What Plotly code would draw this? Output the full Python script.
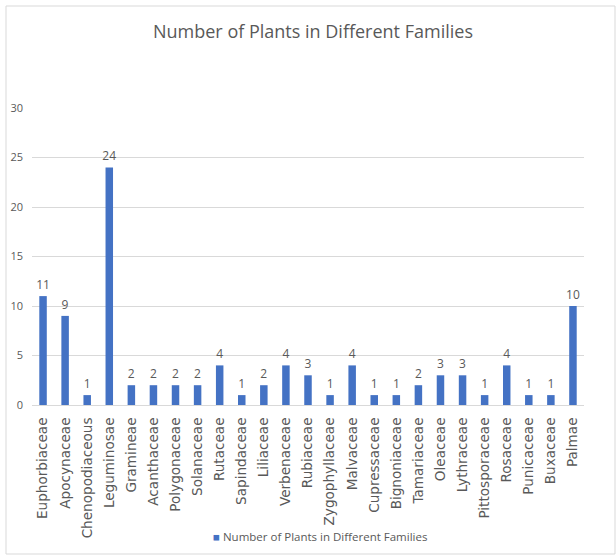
import plotly.graph_objects as go

families = ["Euphorbiaceae", "Apocynaceae", "Chenopodiaceous", "Leguminosae", "Gramineae",
            "Acanthaceae", "Polygonaceae", "Solanaceae", "Rutaceae", "Sapindaceae", "Liliaceae",
            "Verbenaceae", "Rubiaceae", "Zygophyllaceae", "Malvaceae", "Cupressaceae",
            "Bignoniaceae", "Tamariaceae", "Oleaceae", "Lythraceae", "Pittosporaceae",
            "Rosaceae", "Punicaceae", "Buxaceae", "Palmae"]
counts = [11, 9, 1, 24, 2, 2, 2, 2, 4, 1, 2, 4, 3, 1, 4, 1, 1, 2, 3, 3, 1, 4, 1, 1, 10]
y_ticks = [0, 5, 10, 15, 20, 25, 30]
series_name = "Number of Plants in Different Families"

FONT = "Open Sans, Liberation Sans, sans-serif"
TICKFONT = "DejaVu Sans"
GRAY = "#595959"
BLUE = "#4472C4"

fig = go.Figure(go.Bar(
    x=families, y=counts, name=series_name,
    marker=dict(color=BLUE, line=dict(width=0)),
    text=counts, textposition="outside", cliponaxis=False, constraintext="none",
    textfont=dict(size=12, color=GRAY, family=FONT),
    showlegend=False,
))

L, R, T, B = 32, 32, 108, 151
W, H = 616, 556
pw, ph = W - L - R, H - T - B

def px_x(p):
    return (p - L) / pw

def px_y(p):
    return (H - B - p) / ph

fig.update_layout(
    width=W, height=H,
    margin=dict(l=L, r=R, t=T, b=B, autoexpand=False),
    paper_bgcolor="white", plot_bgcolor="white",
    bargap=0.66,
    title=dict(text="Number of Plants in Different Families", x=313 / W, xanchor="center",
               y=1 - 32 / H, yanchor="middle",
               font=dict(size=18, color=GRAY, family=FONT)),
    font=dict(family=FONT, color=GRAY, size=11),
    xaxis=dict(tickangle=-90, tickfont=dict(size=13.6, color=GRAY, family=TICKFONT),
               showgrid=False, showline=True, linecolor="#D9D9D9", linewidth=1, ticks="",
               automargin=False, ticklabelstandoff=6),
    yaxis=dict(range=[0, 30], tickvals=y_ticks, showgrid=True, gridcolor="#D9D9D9",
               gridwidth=1, zeroline=False, showline=False, ticks="", automargin=False,
               tickfont=dict(size=11, color=GRAY), ticklabelstandoff=8),
    showlegend=False,
    annotations=[dict(
        xref="paper", yref="paper", x=px_x(320), y=px_y(536), xanchor="center", yanchor="middle",
        text=f"<span style='color:{BLUE}'>■</span> {series_name}", showarrow=False,
        font=dict(size=11.5, color=GRAY, family=FONT))],
    shapes=[dict(type="rect", xref="paper", yref="paper",
                 x0=px_x(6), x1=px_x(615), y0=px_y(554), y1=px_y(6),
                 line=dict(color="#D9D9D9", width=1), layer="below")],
)

fig.write_html("out.html")
